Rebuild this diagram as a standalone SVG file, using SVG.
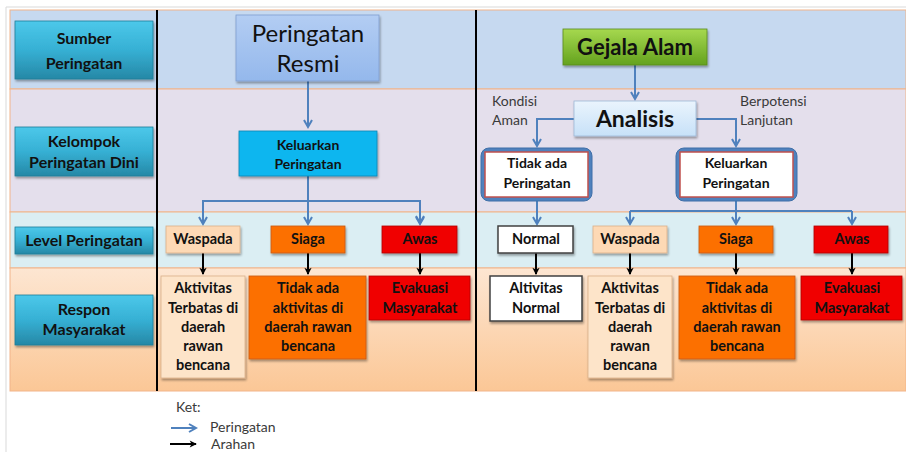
<svg xmlns="http://www.w3.org/2000/svg" width="906" height="452" viewBox="0 0 906 452">
<defs>
<linearGradient id="gTeal" x1="0" y1="0" x2="0" y2="1"><stop offset="0" stop-color="#4cc8ea"/><stop offset="0.5" stop-color="#36b0d4"/><stop offset="1" stop-color="#2688a6"/></linearGradient>
<linearGradient id="gResmi" x1="0" y1="0" x2="0" y2="1"><stop offset="0" stop-color="#b3cdf3"/><stop offset="1" stop-color="#94b8ec"/></linearGradient>
<linearGradient id="gGreen" x1="0" y1="0" x2="0" y2="1"><stop offset="0" stop-color="#a6d84f"/><stop offset="1" stop-color="#64a21e"/></linearGradient>
<linearGradient id="gAnal" x1="0" y1="0" x2="0" y2="1"><stop offset="0" stop-color="#eaf4fd"/><stop offset="1" stop-color="#c7e1f8"/></linearGradient>
<linearGradient id="gBand4" x1="0" y1="0" x2="0" y2="1"><stop offset="0" stop-color="#fde6d2"/><stop offset="1" stop-color="#fbc796"/></linearGradient>
<filter id="sh" x="-10%" y="-10%" width="125%" height="130%"><feDropShadow dx="1" dy="2" stdDeviation="1.2" flood-color="#000" flood-opacity="0.35"/></filter>
<marker id="mb" viewBox="0 0 10 10" refX="8" refY="5" markerWidth="5" markerHeight="5" orient="auto" markerUnits="strokeWidth"><path d="M1,1 L8,5 L1,9" fill="none" stroke="#4f81bd" stroke-width="2"/></marker>
<marker id="mk" viewBox="0 0 10 10" refX="8" refY="5" markerWidth="4.5" markerHeight="4.5" orient="auto" markerUnits="strokeWidth"><path d="M1,1 L9,5 L1,9 L3,5 Z" fill="#000"/></marker>
<style>
text{font-family:Lato,"Open Sans","Liberation Sans",sans-serif;fill:#111;text-anchor:middle}
.lab{font-weight:bold;font-size:16px}
.b14{font-weight:bold;font-size:14.5px}
.k14{font-weight:bold;font-size:14px}
.note{font-size:14px;fill:#3a3a3a;text-anchor:start}
.band{stroke:#f2b489;stroke-width:1}
.blue{fill:none;stroke:#4f81bd;stroke-width:2}
.blk{fill:none;stroke:#000;stroke-width:2}
.teal{fill:url(#gTeal);stroke:#1f7d99;stroke-width:0.8}
.peach{fill:#fdd9b5;stroke:#d9b08a;stroke-width:0.8}
.peach2{fill:#fde4c9;stroke:#d9b08a;stroke-width:0.8}
.orng{fill:#fc6f06;stroke:#c85a10;stroke-width:0.8}
.red{fill:#f00000;stroke:#b00000;stroke-width:0.8}
.wht{fill:#fff;stroke:#404040;stroke-width:1.5}
</style>
</defs>
<rect x="0" y="0" width="906" height="452" fill="#fff"/>
<path d="M6,452 V7 H906" fill="none" stroke="#d9d9d9" stroke-width="1"/>
<g id="bands">
<rect class="band" x="10" y="10" width="896" height="79" fill="#c6d9f0"/>
<rect class="band" x="10" y="89" width="896" height="123" fill="#e4dfec"/>
<rect class="band" x="10" y="212" width="896" height="56" fill="#dbeef3"/>
<rect class="band" x="10" y="268" width="896" height="123" fill="url(#gBand4)"/>
<line x1="157" y1="10" x2="157" y2="391" stroke="#000" stroke-width="2"/>
<line x1="476" y1="10" x2="476" y2="391" stroke="#000" stroke-width="2"/>
</g>
<g id="row-labels">
<g id="lbl-sumber"><rect class="teal" x="15" y="21" width="138" height="58" filter="url(#sh)"/><text class="lab" x="84" y="44">Sumber</text><text class="lab" x="84" y="69">Peringatan</text></g>
<g id="lbl-kelompok"><rect class="teal" x="15" y="127" width="138" height="49" filter="url(#sh)"/><text class="lab" x="84" y="147">Kelompok</text><text class="lab" x="84" y="168">Peringatan Dini</text></g>
<g id="lbl-level"><rect class="teal" x="15" y="227" width="138" height="27" filter="url(#sh)"/><text class="lab" x="84" y="246">Level Peringatan</text></g>
<g id="lbl-respon"><rect class="teal" x="15" y="295" width="138" height="50" filter="url(#sh)"/><text class="lab" x="84" y="315">Respon</text><text class="lab" x="84" y="335">Masyarakat</text></g>
</g>
<g id="connectors">
<line class="blue" x1="308" y1="81" x2="308" y2="127" marker-end="url(#mb)"/>
<path class="blue" d="M308,176 V201"/>
<path class="blue" d="M203,223 V201 H420 V223" marker-end="url(#mb)"/>
<line class="blue" x1="203" y1="201" x2="203" y2="224" marker-end="url(#mb)"/>
<line class="blue" x1="308" y1="201" x2="308" y2="224" marker-end="url(#mb)"/>
<line class="blue" x1="420" y1="201" x2="420" y2="224" marker-end="url(#mb)"/>
<line class="blk" x1="203" y1="253" x2="203" y2="274" marker-end="url(#mk)"/>
<line class="blk" x1="308" y1="253" x2="308" y2="274" marker-end="url(#mk)"/>
<line class="blk" x1="420" y1="253" x2="420" y2="274" marker-end="url(#mk)"/>
<line class="blue" x1="635" y1="65" x2="635" y2="99" marker-end="url(#mb)"/>
<path class="blue" d="M574,119 H537 V146" marker-end="url(#mb)"/>
<path class="blue" d="M696,119 H736 V146" marker-end="url(#mb)"/>
<line class="blue" x1="537" y1="201" x2="537" y2="224" marker-end="url(#mb)"/>
<path class="blue" d="M736,201 V211 M630,211 H852"/>
<line class="blue" x1="630" y1="211" x2="630" y2="224" marker-end="url(#mb)"/>
<line class="blue" x1="736" y1="211" x2="736" y2="224" marker-end="url(#mb)"/>
<line class="blue" x1="852" y1="211" x2="852" y2="224" marker-end="url(#mb)"/>
<line class="blk" x1="536" y1="253" x2="536" y2="274" marker-end="url(#mk)"/>
<line class="blk" x1="630" y1="253" x2="630" y2="274" marker-end="url(#mk)"/>
<line class="blk" x1="736" y1="253" x2="736" y2="274" marker-end="url(#mk)"/>
<line class="blk" x1="852" y1="253" x2="852" y2="274" marker-end="url(#mk)"/>
</g>
<g id="n-resmi"><rect x="236" y="15" width="143" height="66" fill="url(#gResmi)" stroke="#7f9fcf" stroke-width="0.8" filter="url(#sh)"/><text x="308" y="42" font-size="24">Peringatan</text><text x="308" y="72" font-size="24">Resmi</text></g>
<g id="n-keluarkan-l"><rect x="239" y="131" width="138" height="45" fill="#10b6ef" stroke="#0a86b3" stroke-width="0.8" filter="url(#sh)"/><text class="k14" x="308" y="150">Keluarkan</text><text class="k14" x="308" y="169">Peringatan</text></g>
<g id="n-waspada-l"><rect class="peach" x="166" y="226" width="74" height="27" filter="url(#sh)"/><text class="b14" x="203" y="244">Waspada</text></g>
<g id="n-siaga-l"><rect class="orng" x="271" y="226" width="74" height="27" filter="url(#sh)"/><text class="b14" x="308" y="244">Siaga</text></g>
<g id="n-awas-l"><rect class="red" x="382" y="226" width="75" height="27" filter="url(#sh)"/><text class="b14" x="420" y="244">Awas</text></g>
<g id="n-aktivitas-l"><rect class="peach2" x="161" y="276" width="84" height="102" filter="url(#sh)"/><text class="b14" x="203" y="293">Aktivitas</text><text class="b14" x="203" y="313">Terbatas di</text><text class="b14" x="203" y="332">daerah</text><text class="b14" x="203" y="351">rawan</text><text class="b14" x="203" y="370">bencana</text></g>
<g id="n-tidak-l"><rect class="orng" x="249" y="276" width="117" height="83" filter="url(#sh)"/><text class="b14" x="308" y="293">Tidak ada</text><text class="b14" x="308" y="313">aktivitas di</text><text class="b14" x="308" y="332">daerah rawan</text><text class="b14" x="308" y="351">bencana</text></g>
<g id="n-evakuasi-l"><rect class="red" x="369" y="276" width="101" height="44" filter="url(#sh)"/><text class="b14" x="420" y="293">Evakuasi</text><text class="b14" x="420" y="313">Masyarakat</text></g>
<g id="n-gejala"><rect x="563" y="29" width="144" height="36" fill="url(#gGreen)" stroke="#5a8a1e" stroke-width="0.8" filter="url(#sh)"/><text x="635" y="55" font-size="22" font-weight="bold">Gejala Alam</text></g>
<g id="n-analisis"><rect x="574" y="101" width="122" height="35" fill="url(#gAnal)" stroke="#9fb8d6" stroke-width="0.8" filter="url(#sh)"/><text x="635" y="127" font-size="23" font-weight="bold">Analisis</text></g>
<g id="lbl-kondisi"><text class="note" x="492" y="106">Kondisi</text><text class="note" x="492" y="125">Aman</text></g>
<g id="lbl-berpotensi"><text class="note" x="740" y="106">Berpotensi</text><text class="note" x="740" y="125">Lanjutan</text></g>
<g id="n-tidakada"><rect x="481" y="148" width="111" height="53" rx="8" fill="#4f81bd" stroke="#3f6fa8" stroke-width="1"/><rect x="485" y="152" width="103" height="45" fill="#fff" stroke="#c0504d" stroke-width="1.5"/><text class="k14" x="537" y="168">Tidak ada</text><text class="k14" x="537" y="188">Peringatan</text></g>
<g id="n-keluarkan-r"><rect x="676" y="148" width="121" height="53" rx="8" fill="#4f81bd" stroke="#3f6fa8" stroke-width="1"/><rect x="680" y="152" width="113" height="45" fill="#fff" stroke="#c0504d" stroke-width="1.5"/><text class="k14" x="736" y="168">Keluarkan</text><text class="k14" x="736" y="188">Peringatan</text></g>
<g id="n-normal"><rect class="wht" x="498" y="226" width="75" height="27" filter="url(#sh)"/><text class="b14" x="536" y="244">Normal</text></g>
<g id="n-waspada-r"><rect class="peach" x="593" y="226" width="74" height="27" filter="url(#sh)"/><text class="b14" x="630" y="244">Waspada</text></g>
<g id="n-siaga-r"><rect class="orng" x="699" y="226" width="74" height="27" filter="url(#sh)"/><text class="b14" x="736" y="244">Siaga</text></g>
<g id="n-awas-r"><rect class="red" x="814" y="226" width="74" height="27" filter="url(#sh)"/><text class="b14" x="852" y="244">Awas</text></g>
<g id="n-altivitas"><rect class="wht" x="490" y="276" width="92" height="45" filter="url(#sh)"/><text class="b14" x="536" y="293">Altivitas</text><text class="b14" x="536" y="313">Normal</text></g>
<g id="n-aktivitas-r"><rect class="peach2" x="588" y="276" width="84" height="102" filter="url(#sh)"/><text class="b14" x="630" y="293">Aktivitas</text><text class="b14" x="630" y="313">Terbatas di</text><text class="b14" x="630" y="332">daerah</text><text class="b14" x="630" y="351">rawan</text><text class="b14" x="630" y="370">bencana</text></g>
<g id="n-tidak-r"><rect class="orng" x="679" y="276" width="116" height="83" filter="url(#sh)"/><text class="b14" x="737" y="293">Tidak ada</text><text class="b14" x="737" y="313">aktivitas di</text><text class="b14" x="737" y="332">daerah rawan</text><text class="b14" x="737" y="351">bencana</text></g>
<g id="n-evakuasi-r"><rect class="red" x="801" y="276" width="101" height="44" filter="url(#sh)"/><text class="b14" x="852" y="293">Evakuasi</text><text class="b14" x="852" y="313">Masyarakat</text></g>
<g id="legend">
<text class="note" x="176" y="412">Ket:</text>
<line class="blue" x1="171" y1="428" x2="196" y2="428" marker-end="url(#mb)"/>
<text class="note" x="210" y="432">Peringatan</text>
<line class="blk" x1="170" y1="444" x2="196" y2="444" marker-end="url(#mk)"/>
<text class="note" x="211" y="449">Arahan</text>
</g>
</svg>
